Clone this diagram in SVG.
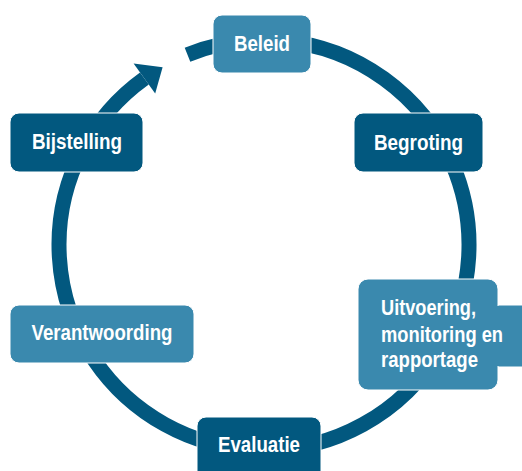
<svg xmlns="http://www.w3.org/2000/svg" width="522" height="471" viewBox="0 0 522 471">
<style>
.dark{fill:#02587f;stroke:#ffffff;stroke-width:1}
.light{fill:#3a89ae;stroke:#ffffff;stroke-width:1}
.lbl{font-family:"Liberation Sans",Arial,sans-serif;font-weight:bold;font-size:22px;fill:#ffffff}
.mid{text-anchor:middle}
.ring{fill:none;stroke:#02587f;stroke-width:15}
</style>
<rect width="522" height="471" fill="#ffffff"/>
<g id="connectors">
<path class="ring" d="M187.5 54.8 A205 205 0 1 1 144.4 78.5"/>
<polygon points="133.6,63.5 162.6,67.2 155.2,93.5" fill="#02587f"/>
</g>
<g id="beleid">
<rect class="light" x="213" y="15" width="98" height="58" rx="9"/>
<text class="lbl mid" x="262" y="51" textLength="56" lengthAdjust="spacingAndGlyphs">Beleid</text>
</g>
<g id="begroting">
<rect class="dark" x="354" y="113" width="129" height="59" rx="9"/>
<text class="lbl mid" x="418.5" y="150" textLength="89" lengthAdjust="spacingAndGlyphs">Begroting</text>
</g>
<g id="uitvoering">
<rect class="light" x="470" y="305" width="70" height="62" rx="9"/>
<rect class="light" x="358" y="279" width="140" height="111" rx="10"/>
<rect x="490" y="306" width="12" height="60" fill="#3a89ae"/>
<text class="lbl" x="381" y="315" textLength="95" lengthAdjust="spacingAndGlyphs">Uitvoering,</text>
<text class="lbl" x="381" y="342" textLength="122" lengthAdjust="spacingAndGlyphs">monitoring en</text>
<text class="lbl" x="381" y="367" textLength="97" lengthAdjust="spacingAndGlyphs">rapportage</text>
</g>
<g id="evaluatie">
<rect class="dark" x="197" y="417" width="124" height="70" rx="9"/>
<text class="lbl mid" x="259" y="452" textLength="82" lengthAdjust="spacingAndGlyphs">Evaluatie</text>
</g>
<g id="verantwoording">
<rect class="light" x="10" y="305" width="184" height="58" rx="9"/>
<text class="lbl mid" x="102" y="340" textLength="141" lengthAdjust="spacingAndGlyphs">Verantwoording</text>
</g>
<g id="bijstelling">
<rect class="dark" x="10" y="113" width="133" height="59" rx="9"/>
<text class="lbl mid" x="77" y="149" textLength="90" lengthAdjust="spacingAndGlyphs">Bijstelling</text>
</g>
</svg>
